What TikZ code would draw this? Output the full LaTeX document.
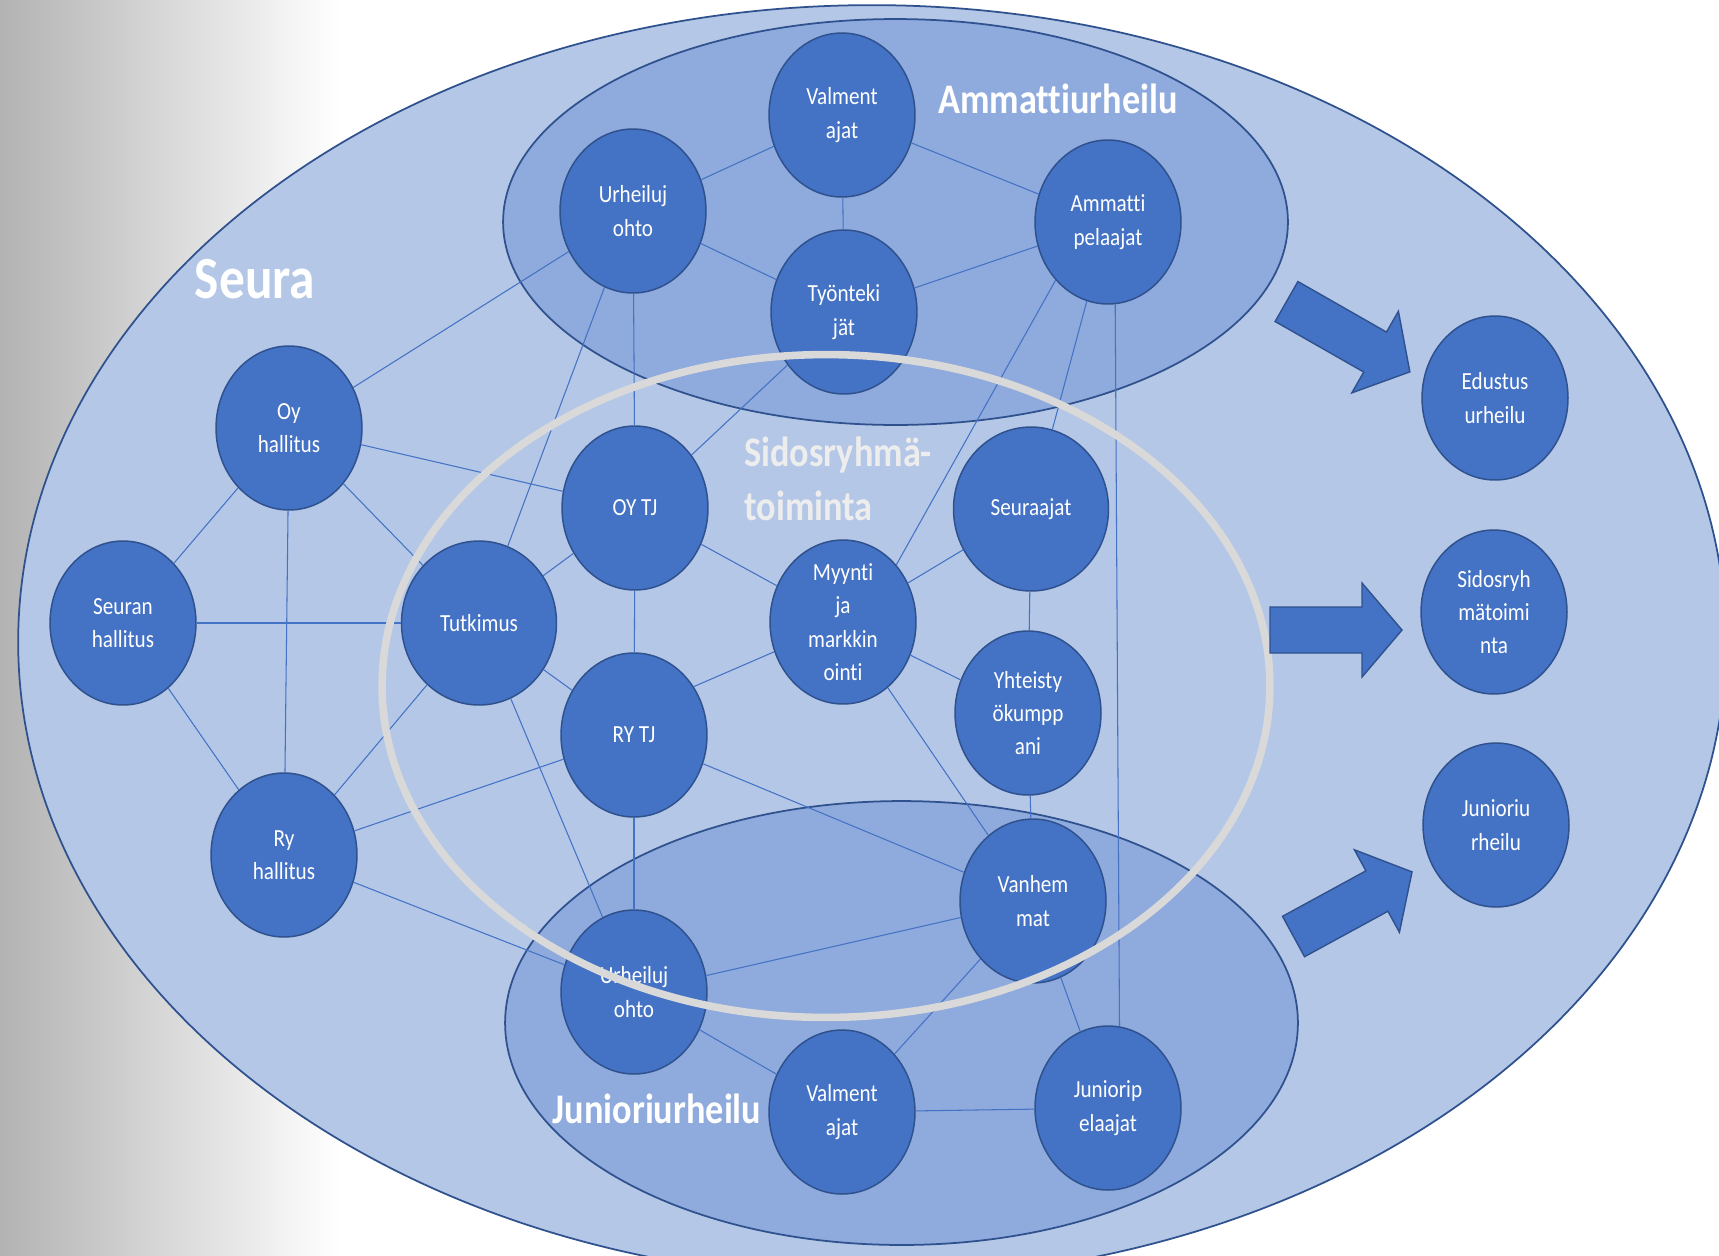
\documentclass[tikz,border=0pt]{standalone}
\usepackage{fontspec}
\setmainfont{Carlito}[FakeStretch=0.86, Ligatures=NoCommon]
\usetikzlibrary{shapes.geometric}
\definecolor{accent}{HTML}{4472C4}
\definecolor{accentdark}{HTML}{2F528F}
\definecolor{lightfill}{HTML}{B4C7E7}
\definecolor{midfill}{HTML}{8FAADC}
\definecolor{ringgray}{HTML}{D9D9D9}

\begin{document}
\begin{tikzpicture}[x=0.02cm, y=-0.02cm,
    actor/.style={ellipse, draw=accentdark, line width=0.85pt, fill=accent, text=white,
        minimum width=\nw, minimum height=\nh, inner xsep=0pt, inner ysep=-4pt,
        align=center, font=\fontsize{14}{19}\selectfont},
    wide/.style={minimum width=3.1cm},
    link/.style={accent, line width=0.6pt},
    area/.style={draw=accentdark, line width=1pt},
    title/.style={text=white, inner sep=0pt, font=\fontsize{24}{31}\selectfont\bfseries},
    flow/.style={fill=accent, draw=accentdark, line width=0.8pt},
    bigarrow/.pic={\draw[flow] (0,-23) -- (#1-40,-23) -- (#1-40,-47) -- (#1,0)
        -- (#1-40,47) -- (#1-40,23) -- (0,23) -- cycle;}]
    \def\nw{2.92cm}
    \def\nh{3.28cm}

    \useasboundingbox (0,0) rectangle (1719,1255);
    \fill[white] (0,0) rectangle (1719,1255);
    \shade[left color=gray!60, right color=white] (0,0) rectangle (340,1255);

    \draw[area, fill=lightfill] (872,642) ellipse [x radius=17.08cm, y radius=12.74cm];
    \draw[area, fill=midfill] (895.5,222) ellipse [x radius=7.85cm, y radius=4.06cm];
    \draw[area, fill=midfill] (901.5,1023) ellipse [x radius=7.93cm, y radius=4.44cm];

    \draw (842,115) node[actor] (valA) {Valment\\ajat};
    \draw (633,211) node[actor] (urhA) {Urheiluj\\ohto};
    \draw (1108,222) node[actor] (ammP) {Ammatti\\pelaajat};
    \draw (844,312) node[actor] (tyon) {Työnteki\\jät};
    \draw (289,428) node[actor] (oyH) {Oy\\hallitus};
    \draw (123,623) node[actor] (seuH) {Seuran\\hallitus};
    \draw (479,623) node[actor, wide] (tutk) {Tutkimus};
    \draw (635,508) node[actor] (oyTJ) {OY TJ};
    \draw (634,735) node[actor] (ryTJ) {RY TJ};
    \draw (843,622) node[actor] (myyn) {Myynti\\ja\\markkin\\ointi};
    \draw (1031,509) node[actor, wide] (seur) {Seuraajat};
    \draw (1028,713) node[actor] (yhte) {Yhteisty\\ökumpp\\ani};
    \draw (284,855) node[actor] (ryH) {Ry\\hallitus};
    \draw (1033,901) node[actor] (vanh) {Vanhem\\mat};
    \draw (634,992) node[actor] (urhJ) {Urheiluj\\ohto};
    \draw (842,1112) node[actor] (valJ) {Valment\\ajat};
    \draw (1108,1108) node[actor] (junP) {Juniorip\\elaajat};
    \draw (1495,398) node[actor] (edus) {Edustus\\urheilu};
    \draw (1494,612) node[actor] (sido) {Sidosryh\\mätoimi\\nta};
    \draw (1496,825) node[actor] (juni) {Junioriu\\rheilu};

    \draw[link] (urhA) -- (valA);
    \draw[link] (urhA) -- (tyon);
    \draw[link] (valA) -- (tyon);
    \draw[link] (valA) -- (ammP);
    \draw[link] (tyon) -- (ammP);
    \draw[link] (oyH) -- (urhA);
    \draw[link] (urhA) -- (oyTJ);
    \draw[link] (urhA) -- (tutk);
    \draw[link] (oyH) -- (oyTJ);
    \draw[link] (oyH) -- (tutk);
    \draw[link] (oyH) -- (seuH);
    \draw[link] (oyH) -- (ryH);
    \draw[link] (seuH) -- (tutk);
    \draw[link] (seuH) -- (ryH);
    \draw[link] (tutk) -- (oyTJ);
    \draw[link] (tyon) -- (oyTJ);
    \draw[link] (oyTJ) -- (myyn);
    \draw[link] (oyTJ) -- (ryTJ);
    \draw[link] (tutk) -- (ryTJ);
    \draw[link] (ryTJ.39) -- (myyn);
    \draw[link] (myyn) -- (seur);
    \draw[link] (myyn.47) -- (ammP.-132);
    \draw[link] (ammP) -- (seur);
    \draw[link] (ammP.-85) -- (junP.82);
    \draw[link] (seur) -- (yhte);
    \draw[link] (myyn) -- (yhte);
    \draw[link] (myyn) -- (vanh);
    \draw[link] (yhte) -- (vanh);
    \draw[link] (ryTJ) -- (vanh);
    \draw[link] (ryTJ) -- (urhJ);
    \draw[link] (tutk) -- (urhJ);
    \draw[link] (tutk) -- (ryH);
    \draw[link] (ryH) -- (ryTJ);
    \draw[link] (ryH) -- (urhJ);
    \draw[link] (urhJ) -- (vanh);
    \draw[link] (urhJ) -- (valJ);
    \draw[link] (vanh) -- (valJ);
    \draw[link] (vanh) -- (junP);
    \draw[link] (valJ) -- (junP);

    \draw[ringgray, line width=4.3pt] (826,686) ellipse [x radius=8.88cm, y radius=6.63cm];

    \draw (1286.5,301.5) pic[rotate=-29.7] {bigarrow=142};
    \draw (1270,630) pic {bigarrow=132};
    \draw (1293.5,936.5) pic[rotate=28.6] {bigarrow=135};

    \draw (255,298) node[title, anchor=base, font=\fontsize{34}{40}\selectfont\bfseries] (seura) {Seura};
    \draw (1058,113) node[title, anchor=base] (ammT) {Ammattiurheilu};
    \draw (657,1123) node[title, anchor=base] (junT) {Junioriurheilu};
    \draw (744,479) node[title, anchor=west, align=left, text=white!93!black] (sidT) {Sidosryhmä-\\toiminta};
\end{tikzpicture}
\end{document}
